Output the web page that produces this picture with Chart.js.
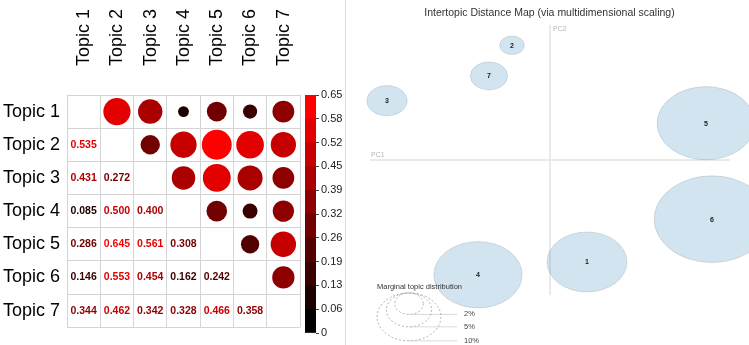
<!DOCTYPE html>
<html>
<head>
<meta charset="utf-8">
<script src="https://cdn.jsdelivr.net/npm/chart.js@4.4.0/dist/chart.umd.min.js"></script>
<style>
  html, body { margin: 0; padding: 0; background: #fff; }
  #wrap { position: relative; width: 749px; height: 345px; overflow: hidden; }
  .box { position: absolute; top: 0; height: 345px; }
  #corrBox { left: 0; width: 320px; }
  #barBox { left: 300px; width: 45px; }
  #mapBox { left: 350px; width: 399px; }
  #sep { position: absolute; left: 345px; top: 0; width: 1px; height: 345px; background: #dedede; }
</style>
</head>
<body>
<div id="wrap">
  <div class="box" id="corrBox"><canvas id="corr"></canvas></div>
  <div class="box" id="barBox"><canvas id="bar"></canvas></div>
  <div id="sep"></div>
  <div class="box" id="mapBox"><canvas id="map"></canvas></div>
</div>
<script>
// ---- topic correlation (lower triangle, row by row) ----
const topics = ["Topic 1", "Topic 2", "Topic 3", "Topic 4", "Topic 5", "Topic 6", "Topic 7"];
const corrRows = [
  [],
  [0.535],
  [0.431, 0.272],
  [0.085, 0.500, 0.400],
  [0.286, 0.645, 0.561, 0.308],
  [0.146, 0.553, 0.454, 0.162, 0.242],
  [0.344, 0.462, 0.342, 0.328, 0.466, 0.358]
];
const colLimit = 0.65;
const barTicks = [0, 0.065, 0.13, 0.195, 0.26, 0.325, 0.39, 0.455, 0.52, 0.585, 0.65];
const barTickLabels = ["0", "0.06", "0.13", "0.19", "0.26", "0.32", "0.39", "0.45", "0.52", "0.58", "0.65"];

// ---- intertopic distance map ----
const mapTopics = ["1", "2", "3", "4", "5", "6", "7"];
const pc1 = [0.037, -0.038, -0.163, -0.072, 0.156, 0.162, -0.061];
const pc2 = [-0.136, 0.153, 0.079, -0.153, 0.049, -0.079, 0.112];
const marginal = [15.7, 1.5, 4.0, 19.2, 23.4, 32.8, 3.4]; // % of tokens
const legendSizes = [2, 5, 10];
const legendLabels = ["2%", "5%", "10%"];

const maxCircle = 15;        // px radius at colLimit
const radiusPerPct = 0.0101; // data units per sqrt(%)
const axisExtent = 0.18;
const FONT = '"Liberation Sans", Arial, sans-serif';
Chart.defaults.font.family = FONT;

// black -> red in 10 steps, like the colour key
function binColor(v) {
  const b = Math.min(9, Math.floor(v / colLimit * 10));
  const c = Math.round(b * 255 / 9);
  return `rgb(${c},0,0)`;
}

// circles go in the upper triangle
const circlePts = [];
const circleCols = [];
corrRows.forEach((row, r) => row.forEach((v, c) => {
  circlePts.push({ x: topics[r], y: topics[c], r: maxCircle * Math.sqrt(v / colLimit) });
  circleCols.push(binColor(v));
}));

// numbers in the lower triangle
const corrText = {
  id: "corrText",
  afterDatasetsDraw(chart) {
    const { ctx, scales: { x, y } } = chart;
    ctx.save();
    ctx.font = "bold 10.5px " + FONT;
    ctx.textAlign = "center";
    ctx.textBaseline = "middle";
    corrRows.forEach((row, r) => row.forEach((v, c) => {
      ctx.fillStyle = binColor(v);
      ctx.fillText(v.toFixed(3), x.getPixelForValue(c), y.getPixelForValue(r));
    }));
    ctx.restore();
  }
};

const gridCol = "#d4d4d4";
new Chart(document.getElementById("corr"), {
  type: "bubble",
  data: {
    datasets: [{
      data: circlePts,
      backgroundColor: circleCols,
      borderWidth: 0
    }]
  },
  options: {
    animation: false,
    responsive: true,
    maintainAspectRatio: false,
    events: [],
    layout: { padding: { top: 0, left: 0, right: 20, bottom: 12 } },
    plugins: { legend: { display: false }, tooltip: { enabled: false } },
    scales: {
      x: {
        type: "category", labels: topics, position: "top", offset: true,
        grid: { offset: true, color: gridCol, drawTicks: false },
        border: { color: gridCol },
        ticks: { autoSkip: false, minRotation: 90, maxRotation: 90, padding: 29, labelOffset: 22, color: "#000", font: { size: 18 } },
        afterFit: (s) => { s.height = 95; }
      },
      y: {
        type: "category", labels: topics, offset: true,
        grid: { offset: true, color: gridCol, drawTicks: false },
        border: { color: gridCol },
        ticks: { autoSkip: false, padding: 7, color: "#000", font: { size: 18 } },
        afterFit: (s) => { s.width = 67; }
      }
    }
  },
  plugins: [corrText]
});

// colour key
new Chart(document.getElementById("bar"), {
  type: "bar",
  data: {
    labels: [""],
    datasets: barTicks.slice(1).map((t, k) => ({
      data: [t - barTicks[k]],
      backgroundColor: binColor((t + barTicks[k]) / 2),
      barPercentage: 1, categoryPercentage: 1, borderWidth: 0
    }))
  },
  options: {
    animation: false,
    responsive: true,
    maintainAspectRatio: false,
    events: [],
    layout: { padding: { top: 95, bottom: 12, left: 5, right: 0 } },
    plugins: { legend: { display: false }, tooltip: { enabled: false } },
    scales: {
      x: { display: false, stacked: true },
      y: {
        stacked: true, position: "right", min: 0, max: colLimit,
        grid: { drawOnChartArea: false, tickLength: 3, color: "#444" },
        border: { display: false },
        afterBuildTicks: (s) => { s.ticks = barTicks.map((v) => ({ value: v })); },
        ticks: { padding: 2, color: "#222", font: { size: 11 }, callback: (v, i) => barTickLabels[i] },
        afterFit: (s) => { s.width = 29; }
      }
    }
  }
});

// LDAvis-style map drawn through the scales
const mapDraw = {
  id: "mapDraw",
  beforeDatasetsDraw(chart) {
    const { ctx, scales: { x, y } } = chart;
    const px = (v) => x.getPixelForValue(v);
    const py = (v) => y.getPixelForValue(v);
    ctx.save();

    // title
    ctx.fillStyle = "#333";
    ctx.font = "10.5px " + FONT;
    ctx.textAlign = "center";
    ctx.textBaseline = "middle";
    ctx.fillText("Intertopic Distance Map (via multidimensional scaling)", chart.width / 2, 13);

    // PC axes
    ctx.strokeStyle = "#e4e4e4";
    ctx.lineWidth = 1.5;
    ctx.beginPath();
    ctx.moveTo(px(0), py(axisExtent));
    ctx.lineTo(px(0), py(-axisExtent));
    ctx.moveTo(px(-axisExtent), py(0));
    ctx.lineTo(px(axisExtent), py(0));
    ctx.stroke();
    ctx.fillStyle = "#b5b5b5";
    ctx.font = "7px " + FONT;
    ctx.textAlign = "left";
    ctx.fillText("PC2", px(0) + 3, py(axisExtent) + 4);
    ctx.fillText("PC1", px(-axisExtent) + 1, py(0) - 5);

    // topic circles
    const pts = chart.getDatasetMeta(0).data;
    pts.forEach((p, i) => {
      const r = radiusPerPct * Math.sqrt(marginal[i]);
      const rx = px(pc1[i] + r) - p.x;
      const ry = p.y - py(pc2[i] + r);
      ctx.beginPath();
      ctx.ellipse(p.x, p.y, rx, ry, 0, 0, Math.PI * 2);
      ctx.fillStyle = "rgba(31,119,180,0.2)";
      ctx.fill();
      ctx.strokeStyle = "rgba(0,0,0,0.1)";
      ctx.lineWidth = 1;
      ctx.stroke();
    });
    ctx.fillStyle = "#222";
    ctx.font = "bold 7px " + FONT;
    ctx.textAlign = "center";
    pts.forEach((p, i) => ctx.fillText(mapTopics[i], p.x, p.y + 0.5));

    // size legend
    const lx = -0.141, top = -0.1773, lineEnd = -0.093, labelX = -0.086;
    ctx.fillStyle = "#333";
    ctx.font = "7.5px " + FONT;
    ctx.textAlign = "left";
    ctx.fillText("Marginal topic distribution", px(-0.173), py(top) - 6);
    legendSizes.forEach((s, k) => {
      const r = radiusPerPct * Math.sqrt(s);
      const cy = top - r;
      ctx.setLineDash([2, 2]);
      ctx.strokeStyle = "#a0a0a0";
      ctx.lineWidth = 0.8;
      ctx.beginPath();
      ctx.ellipse(px(lx), py(cy), px(lx + r) - px(lx), py(cy) - py(cy + r), 0, 0, Math.PI * 2);
      ctx.stroke();
      ctx.setLineDash([]);
      ctx.strokeStyle = "#d0d0d0";
      ctx.beginPath();
      ctx.moveTo(px(lx), py(cy - r));
      ctx.lineTo(px(lineEnd), py(cy - r));
      ctx.stroke();
      ctx.fillStyle = "#444";
      ctx.fillText(legendLabels[k], px(labelX), py(cy - r));
    });
    ctx.restore();
  }
};

new Chart(document.getElementById("map"), {
  type: "scatter",
  data: { datasets: [{ data: pc1.map((v, i) => ({ x: v, y: pc2[i] })), pointRadius: 0 }] },
  options: {
    animation: false,
    responsive: true,
    maintainAspectRatio: false,
    events: [],
    layout: { padding: 0 },
    plugins: { legend: { display: false }, tooltip: { enabled: false } },
    scales: {
      x: { display: false, min: -0.2, max: 0.199 },
      y: { display: false, min: -0.2467, max: 0.2133 }
    }
  },
  plugins: [mapDraw]
});
</script>
</body>
</html>
